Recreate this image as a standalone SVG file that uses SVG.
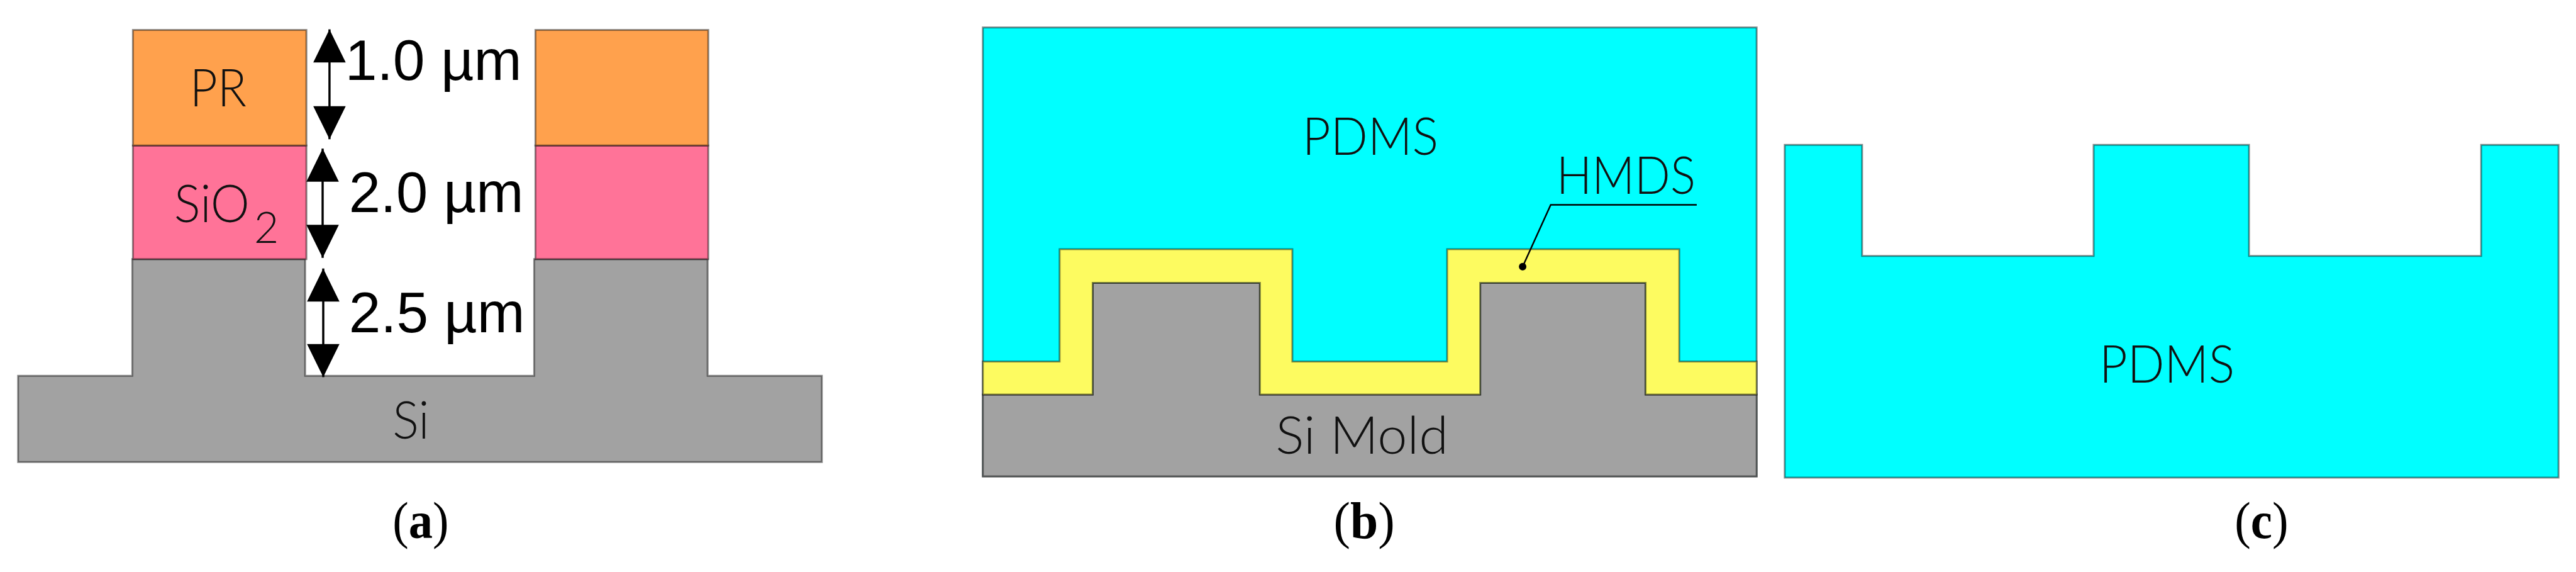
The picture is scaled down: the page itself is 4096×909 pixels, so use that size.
<svg xmlns="http://www.w3.org/2000/svg" width="4096" height="909" viewBox="0 0 4096 909">
<style>
.e{stroke:#000;stroke-opacity:.45;stroke-width:3}
.pr{fill:#FFA14D}.ox{fill:#FF7398}.si{fill:#A2A2A2}.pd{fill:#00FFFF}.hm{fill:#FDFB60}
.g{font-family:Lato,"Noto Sans",sans-serif;font-size:83px;fill:#111;font-weight:300}
.d{font-family:"Liberation Sans",Arial,sans-serif;font-size:92px;fill:#000}
.c{font-family:"Liberation Serif","Times New Roman",serif;font-size:84px;fill:#000}
.c tspan{font-weight:700}
.a{stroke:#000;stroke-width:3.5;fill:none;marker-start:url(#tri);marker-end:url(#tri)}
</style>
<defs>
<marker id="tri" markerUnits="userSpaceOnUse" markerWidth="56" markerHeight="56" viewBox="0 0 56 56" refX="54" refY="28" orient="auto-start-reverse"><path d="M1 2L54 28L1 54Z" fill="#000"/></marker>
<marker id="dot" markerUnits="userSpaceOnUse" markerWidth="14" markerHeight="14" viewBox="0 0 14 14" refX="7" refY="7"><circle cx="7" cy="7" r="6" fill="#000"/></marker>
</defs>
<rect width="4096" height="909" fill="#fff"/>
<g transform="scale(0.99225)">
<g id="panel-a">
<g id="a-si"><path class="si e" d="M29 602H212V415H489V602H856V415H1134V602H1317V740H29Z"/><text class="g" x="629" y="702" textLength="59" lengthAdjust="spacingAndGlyphs">Si</text></g>
<g id="a-sio2-left"><rect class="ox e" x="213" y="233" width="278" height="182"/><text class="g" x="279" y="356" textLength="121" lengthAdjust="spacingAndGlyphs">SiO</text><text class="g" x="407" y="389" style="font-size:70px" textLength="40" lengthAdjust="spacingAndGlyphs">2</text></g>
<g id="a-pr-left"><rect class="pr e" x="213" y="48" width="278" height="185"/><text class="g" x="304" y="170" textLength="91" lengthAdjust="spacingAndGlyphs">PR</text></g>
<g id="a-sio2-right"><rect class="ox e" x="858" y="233" width="277" height="182"/></g>
<g id="a-pr-right"><rect class="pr e" x="858" y="48" width="277" height="185"/></g>
<g id="a-dims"><text class="d" x="553" y="128" textLength="283" lengthAdjust="spacingAndGlyphs">1.0 µm</text><text class="d" x="559" y="340" textLength="280" lengthAdjust="spacingAndGlyphs">2.0 µm</text><text class="d" x="559" y="532" textLength="282" lengthAdjust="spacingAndGlyphs">2.5 µm</text></g>
<g id="a-label"><text class="c" x="629" y="862" textLength="90" lengthAdjust="spacingAndGlyphs">(<tspan>a</tspan>)</text></g>
</g>
<g id="panel-b">
<g id="b-pdms"><rect class="pd e" x="1575" y="44" width="1240" height="719"/><text class="g" x="2087" y="248" textLength="218" lengthAdjust="spacingAndGlyphs">PDMS</text></g>
<g id="b-si"><path class="si e" d="M1575 632H1751V453H2019V632H2372V453H2637V632H2815V763H1575Z"/><text class="g" x="2044" y="727" textLength="277" lengthAdjust="spacingAndGlyphs">Si Mold</text></g>
<g id="b-hmds"><path class="hm e" d="M1575 579H1698V399H2071V579H2319V399H2691V579H2815V632H2637V453H2372V632H2019V453H1751V632H1575Z"/><text class="g" x="2494" y="310" textLength="223" lengthAdjust="spacingAndGlyphs">HMDS</text></g>
<g id="b-label"><text class="c" x="2137" y="862" textLength="98" lengthAdjust="spacingAndGlyphs">(<tspan>b</tspan>)</text></g>
</g>
<g id="panel-c">
<g id="c-pdms"><path class="pd e" d="M2860 232H2984V410H3355V232H3604V410H3976V232H4100V765H2860Z"/><text class="g" x="3364" y="613" textLength="217" lengthAdjust="spacingAndGlyphs">PDMS</text></g>
<g id="c-label"><text class="c" x="3581" y="862" textLength="86" lengthAdjust="spacingAndGlyphs">(<tspan>c</tspan>)</text></g>
</g>
<g id="connectors">
<path class="a" d="M528 47V223"/>
<path class="a" d="M517 238V413"/>
<path class="a" d="M518 430V604"/>
<path d="M2719 328H2485L2440 427" fill="none" stroke="#000" stroke-width="2.5" marker-end="url(#dot)"/>
</g>
</g>
</svg>
